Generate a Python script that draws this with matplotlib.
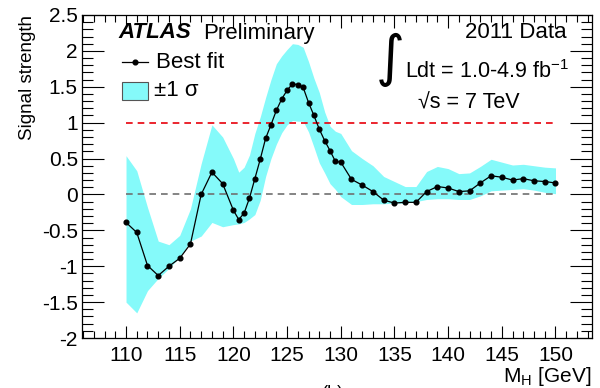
import matplotlib
matplotlib.use("Agg")
import matplotlib.pyplot as plt
import numpy as np
from matplotlib.lines import Line2D
from matplotlib.patches import Rectangle
from matplotlib.ticker import MultipleLocator

plt.rcParams['font.family'] = ['Liberation Sans', 'DejaVu Sans']

# data
mass = [110, 111, 112, 113, 114, 115, 116, 117, 118, 119, 120,
        120.5, 121, 121.5, 122, 122.5, 123, 123.5, 124, 124.5, 125,
        125.5, 126, 126.5, 127, 127.5, 128, 128.5, 129, 129.5, 130,
        131, 132, 133, 134, 135, 136, 137, 138, 139, 140,
        141, 142, 143, 144, 145, 146, 147, 148, 149, 150]
best_fit = [-0.39, -0.53, -0.99, -1.13, -1.00, -0.89, -0.69, 0.00, 0.31, 0.15, -0.22,
            -0.35, -0.26, -0.05, 0.22, 0.49, 0.78, 0.97, 1.17, 1.33, 1.45,
            1.54, 1.53, 1.49, 1.28, 1.10, 0.91, 0.75, 0.61, 0.46, 0.45,
            0.21, 0.13, 0.04, -0.08, -0.12, -0.11, -0.11, 0.04, 0.11, 0.09,
            0.04, 0.05, 0.16, 0.26, 0.24, 0.20, 0.22, 0.19, 0.18, 0.16]
band_hi = [0.54, 0.33, -0.18, -0.65, -0.70, -0.57, -0.20, 0.43, 0.97, 0.80, 0.50,
           0.31, 0.38, 0.55, 0.85, 1.08, 1.35, 1.60, 1.82, 1.93, 2.02,
           2.10, 2.09, 2.05, 1.85, 1.62, 1.42, 1.15, 0.95, 0.88, 0.85,
           0.61, 0.50, 0.40, 0.25, 0.18, 0.11, 0.11, 0.32, 0.39, 0.36,
           0.29, 0.30, 0.39, 0.49, 0.45, 0.41, 0.42, 0.40, 0.38, 0.37]
band_lo = [-1.50, -1.65, -1.34, -1.17, -1.03, -0.87, -0.65, -0.58, -0.39, -0.45, -0.42,
           -0.41, -0.39, -0.34, -0.28, -0.08, 0.25, 0.50, 0.70, 0.86, 0.97,
           1.03, 1.02, 1.02, 0.87, 0.66, 0.44, 0.30, 0.15, 0.07, -0.03,
           -0.14, -0.14, -0.13, -0.13, -0.12, -0.12, -0.10, -0.07, -0.06, -0.06,
           -0.07, -0.07, -0.02, 0.05, 0.06, 0.07, 0.08, 0.06, 0.03, 0.01]
y_ticks = [-2, -1.5, -1, -0.5, 0, 0.5, 1, 1.5, 2, 2.5]
y_ticklabels = ['-2', '-1.5', '-1', '-0.5', '0', '0.5', '1', '1.5', '2', '2.5']

W, H = 600, 388
fig = plt.figure(figsize=(6, 3.88), dpi=100)
ax = fig.add_axes([82 / W, 1 - 338 / H, (592 - 82) / W, (338 - 15) / H])

def px(x, y):
    return x / W, 1 - y / H

ax.fill_between(mass, band_lo, band_hi, color='#85fafa', lw=0)
ax.plot([110, 150], [1, 1], color='#e8000b', ls=(0, (4, 3)), lw=1.2)
ax.plot([110, 150], [0, 0], color='#707070', ls=(0, (4, 3)), lw=1.2)
ax.plot(mass, best_fit, color='black', lw=0.9, marker='o', ms=3.4)

ax.set_xlim(105.9, 153.4)
ax.set_ylim(-2, 2.5)
ax.xaxis.set_major_locator(MultipleLocator(5))
ax.xaxis.set_minor_locator(MultipleLocator(1))
ax.yaxis.set_minor_locator(MultipleLocator(0.1))
ax.tick_params(which='both', direction='in', top=True, right=True, labelsize=15)
ax.tick_params(axis='y', which='major', length=16, width=0.8, pad=3)
ax.tick_params(axis='y', which='minor', length=8, width=0.8)
ax.tick_params(axis='x', which='major', length=9, width=0.8, pad=6)
ax.tick_params(axis='x', which='minor', length=5, width=0.8)
ax.set_yticks(y_ticks)
ax.set_yticklabels(y_ticklabels)
ax.set_xticks(np.arange(110, 151, 5))
for s in ax.spines.values():
    s.set_linewidth(0.9)

fig.text(*px(27, 15), 'Signal strength', rotation=90, ha='center', va='top', fontsize=13.5)
fig.text(*px(591, 377), r'M$_\mathregular{H}$ [GeV]', ha='right', va='center', fontsize=15)
fig.text(*px(333, 394), '(b)', ha='center', va='center', fontsize=13)

# labels in the frame
fig.text(*px(118, 33), 'ATLAS', ha='left', va='center', fontsize=16,
         fontweight='bold', style='italic')
fig.text(*px(203, 33), 'Preliminary', ha='left', va='center', fontsize=16)
fig.text(*px(567, 33), '2011 Data', ha='right', va='center', fontsize=16)
fig.text(*px(390, 60), '\u222b', ha='center', va='center', fontsize=40, family='DejaVu Sans')
fig.text(*px(405, 72), r'Ldt = 1.0-4.9 fb$^\mathregular{-1}$', ha='left', va='center', fontsize=15.5)
fig.text(*px(469, 103), '\u221as = 7 TeV', ha='center', va='center', fontsize=15.5)

fig.add_artist(Line2D([122 / W, 148 / W], [1 - 62 / H, 1 - 62 / H], color='black', lw=0.9))
fig.add_artist(Line2D([135 / W], [1 - 62 / H], color='black', marker='o', ms=3.4))
fig.text(*px(156, 62), 'Best fit', ha='left', va='center', fontsize=16)
fig.add_artist(Rectangle(px(122, 100), 26 / W, 18 / H, facecolor='#85fafa',
                         edgecolor='#555555', lw=0.8))
fig.text(*px(154, 91), '\u00b11 \u03c3', ha='left', va='center', fontsize=16)

fig.savefig('out.png', dpi=100)
